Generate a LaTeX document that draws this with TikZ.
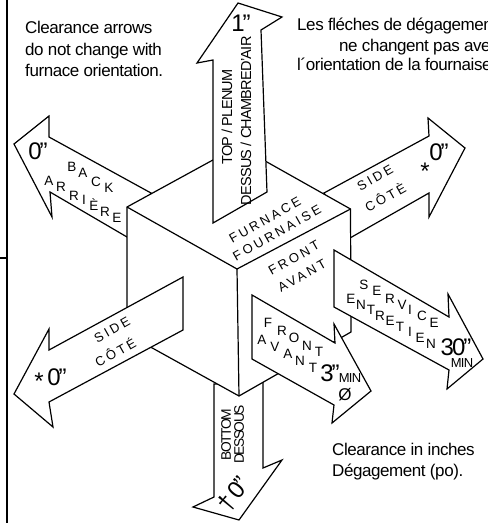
\documentclass[tikz,border=0pt]{standalone}
\usepackage{fontspec}
\setmainfont{Liberation Sans}
\newcommand{\fsz}[1]{\fontsize{#1}{#1}\selectfont}
\tikzset{
  outline/.style={draw=black,line width=1.2pt,fill=white,line join=miter,miter limit=10},
  rule/.style={draw=black,line width=1.2pt},
  para/.style={inner sep=0pt,anchor=base west,font=\fsz{17}\addfontfeature{LetterSpace=-2.5}},
  steplet/.style={inner sep=0pt,font=\fsz{13.5}},
  spaced/.style={inner sep=0pt,font=\fsz{13}\addfontfeature{LetterSpace=22},rotate=29.5},
  upsize/.style={inner sep=0pt,font=\fsz{14.5}\addfontfeature{LetterSpace=-5},rotate=90},
  lowsize/.style={inner sep=0pt,font=\fsz{13.8}\addfontfeature{LetterSpace=-11},rotate=90},
  big/.style={inner sep=0pt,font=\fsz{24}\addfontfeature{LetterSpace=-8}},
  small/.style={inner sep=0pt,font=\fsz{13}\addfontfeature{LetterSpace=-6}},
}
\begin{document}
\begin{tikzpicture}[x=1pt,y=-1pt]
\useasboundingbox (0,0) rectangle (488,523);
\clip (0,0) rectangle (488,523);
\fill[white] (0,0) rectangle (488,523);
% frame
\coordinate (ft) at (7,0); \coordinate (fb) at (7,523);
\coordinate (tl) at (0,258); \coordinate (tr) at (7,258);
\draw[rule] (ft) -- (fb);
\draw[rule] (tl) -- (tr);
% arrows behind the cube
\draw[outline] (151,193) -- (49,137) -- (49,116) -- (14,144) -- (52,217) -- (50,192) -- (127,237) -- cycle;
\draw[outline] (324,193) -- (429,136) -- (428,118) -- (465,148) -- (429,217) -- (429,193) -- (350,238) -- cycle;
\draw[outline] (214,384) -- (214,497) -- (193,507) -- (239,520) -- (282,460) -- (263,468) -- (263,382) -- cycle;
% cube
\draw[outline] (238.5,146) -- (350.5,209) -- (351,332) -- (239,396) -- (127,334) -- (127,207) -- cycle;
\draw[rule] (127,207) -- (237,269) -- (350.5,209);
\draw[rule] (237,269) -- (239,396);
% arrows in front of the cube
\draw[outline] (213,223) -- (213,60) -- (197,63) -- (238,3) -- (282,17) -- (261,30) -- (267,192) -- cycle;
\draw[outline] (183,277) -- (49,350) -- (49,329) -- (14,394) -- (53,427) -- (49,402) -- (183,330) -- cycle;
\draw[outline] (334,250) -- (449,317) -- (448,294) -- (483,359) -- (447,389) -- (449,370) -- (334,307) -- cycle;
\draw[outline] (252,295) -- (335,343) -- (334,324) -- (371,391) -- (332,423) -- (334,405) -- (252,359) -- cycle;
% paragraphs
\node[para] (en1) at (25,33) {Clearance arrows};
\node[para] (en2) at (25,55.5) {do not change with};
\node[para] (en3) at (25,76.5) {furnace orientation.};
\node[para] (fr1) at (297,30.5) {Les fléches de dégagement};
\node[para] (fr2) at (339,51) {ne changent pas avec};
\node[para] (fr3) at (297,70) {l´orientation de la fournaise.};
\node[para] (cl1) at (332,455) {Clearance in inches};
\node[para] (cl2) at (332,476) {Dégagement (po).};
% top and bottom labels
\node[big] (one) at (241,23) {1"};
\node[upsize] (top) at (227,117) {TOP / PLENUM};
\node[upsize] (topfr) at (246,121) {DESSUS / CHAMBRED'AIR};
\node[lowsize] (bot) at (226,434.5) {BOTTOM};
\node[lowsize] (botfr) at (239,434.5) {DESSOUS};
\node[big,rotate=50] (botdag) at (227,503) {†};
\node[big,rotate=50] (botz) at (238,488) {0"};
% rotated, spaced labels
\node[spaced] (fu) at (265,220) {FURNACE};
\node[spaced] (fo) at (277,233) {FOURNAISE};
\node[spaced] (cf) at (294,258) {FRONT};
\node[spaced] (ca) at (302,276) {AVANT};
\node[spaced] (rs) at (375,178) {SIDE};
\node[spaced] (rc) at (385,197) {CÔTÈ};
\node[spaced] (ls) at (112,330) {SIDE};
\node[spaced] (lc) at (115,352) {CÔTÉ};
% upright letters stepping down the arrows
\foreach \l/\x/\y [count=\n] in {B/72/167,A/83/173,C/96/182,K/109/188,
  A/49/181,R/61/187,R/74/196,I/84/200,È/94/205,R/105/212,E/117/218,
  S/364/285,E/377/291,R/390/299,V/402/305,I/410/310,C/422/316,E/434/323,
  E/351/299,N/361/305,T/371/310,R/380/316,E/390/321,T/400/327,I/410/332,E/420/338,N/431/344,
  F/268/323,R/282/331,O/294/338,N/307/346,T/319/352,
  A/262/340,V/275/347,A/288/354,N/300/361,T/313/368}
  \node[steplet] (let\n) at (\x,\y) {\l};
% clearances
\node[big] (bz) at (38,151) {0"};
\node[big] (rz) at (439,152) {0"};
\node[big] (rstar) at (425,171) {*};
\node[big] (lstar) at (39,381) {*};
\node[big] (lz) at (57,377) {0"};
\node[big] (thr) at (330,373) {3"};
\node[small] (thrm) at (350,378) {MIN};
\node[inner sep=0pt,font=\fsz{17}] (dia) at (345,395) {Ø};
\node[big] (thi) at (456,347) {30"};
\node[small] (thim) at (462,363) {MIN};
\end{tikzpicture}
\end{document}
